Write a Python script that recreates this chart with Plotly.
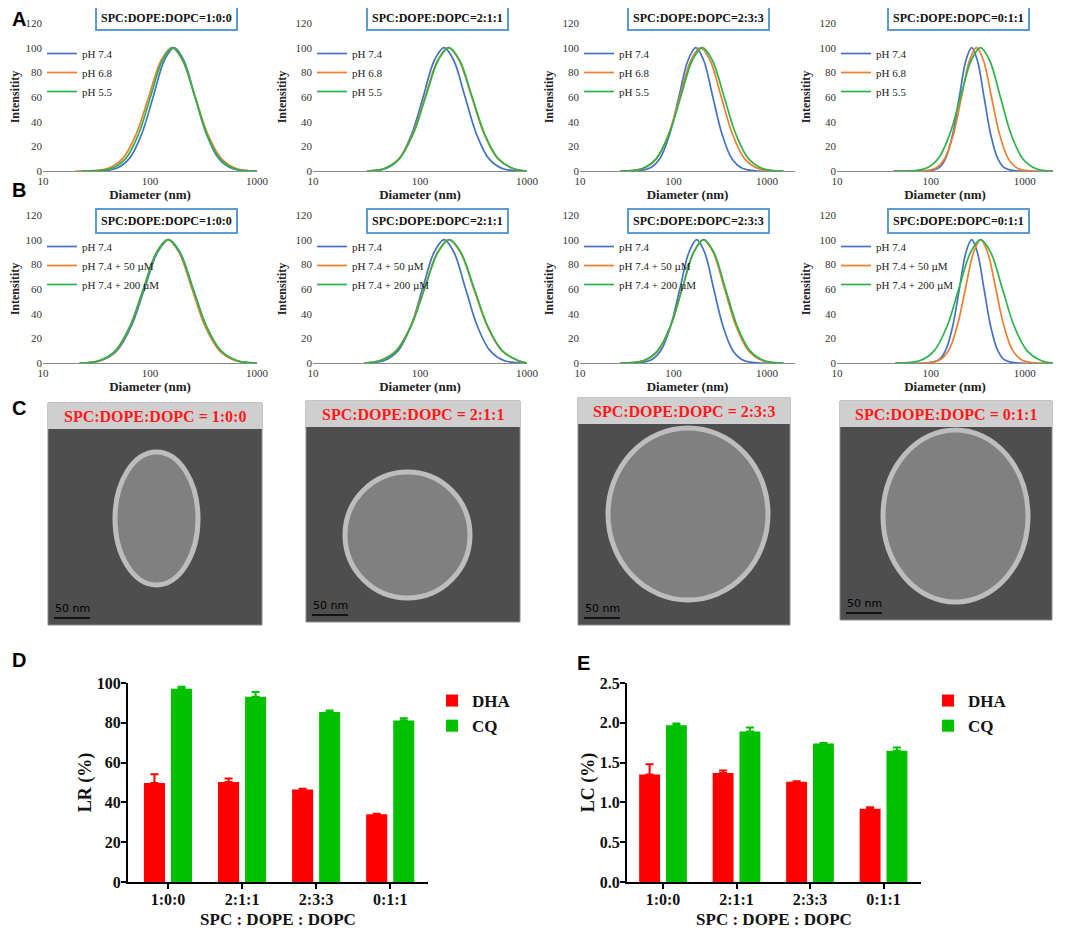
import plotly.graph_objects as go

# the page adds an 8 px body margin, so the figure is drawn 16 px smaller
PAD = 8
W, H = 1065 - 2 * PAD, 937 - 2 * PAD
SERIF = "Liberation Serif"
SANS = "Liberation Sans"

# intensity levels shared by every size-distribution curve
LEVELS = [0, 2, 10, 30, 60, 90, 100, 90, 60, 30, 10, 2, 0]

# row A: diameters (nm) at each intensity level
a1_ph74 = [23, 47.9, 64, 83.6, 107, 136.6, 168, 206, 264, 337, 440, 589, 1000]
a1_ph68 = [20, 40.1, 55.4, 74.3, 97.2, 127.7, 160.3, 201, 264.5, 346, 464, 640, 1000]
a1_ph55 = [23, 43.5, 59.2, 78.3, 101, 131, 163, 202, 263, 339, 449, 610, 1000]

a2_ph74 = [32, 47.9, 64, 83.6, 107, 136.6, 168, 206, 264, 337, 440, 589, 1000]
a2_ph68 = [32, 46.1, 63.6, 85.4, 111.6, 146.7, 184, 231, 304, 397, 533, 735, 1000]
a2_ph55 = [32, 46.6, 64.3, 86.4, 112.9, 148.4, 186.2, 234, 307.5, 402, 539, 744, 1000]

a3_ph74 = [27, 54.5, 71.4, 91.3, 114.3, 143.7, 173.8, 210, 264, 331, 423, 554, 1500]
a3_ph68 = [27, 47.3, 65.8, 88.9, 116.8, 154.5, 195, 246, 325, 428, 578, 804, 1500]
a3_ph55 = [27, 46.4, 65.5, 89.7, 119.6, 160, 204, 260, 349, 465, 636, 898, 1500]

a4_ph74 = [40, 118, 143, 171, 201, 237, 272, 312, 368.5, 433, 518, 629, 2000]
a4_ph68 = [40, 110.7, 140, 174, 212, 259, 306, 362, 442, 538.5, 668.5, 847, 2000]
a4_ph55 = [40, 87.2, 119.5, 159, 207, 270, 337, 421, 550, 714, 952, 1304, 2000]

# row B: pH 7.4 with 0 / 50 / 200 uM
b1_ph74 = [22, 35.1, 49.2, 67, 88.6, 118, 149.6, 190, 253, 334, 455, 637, 1000]
b1_50um = [22, 34.3, 48.1, 65.5, 86.6, 115.3, 146.2, 185.6, 247, 326, 445, 623, 1000]
b1_200um = [22, 33.6, 47.5, 65, 86.6, 116, 147.9, 188.6, 252.7, 336.5, 461, 650, 1000]

b2_ph74 = [30, 46.3, 62.5, 82.2, 105.4, 135.9, 168, 207, 267, 343, 451, 609, 1000]
b2_50um = [30, 42.3, 59.8, 81.8, 109, 146, 186.2, 237.5, 318, 424, 580, 819, 1000]
b2_200um = [30, 42.8, 60.5, 82.7, 110.3, 147.7, 188.4, 240, 322, 429, 587, 828, 1000]

b3_ph74 = [27, 55.8, 73.1, 93.4, 117, 147, 177.8, 215, 270, 338.5, 433, 567, 1500]
b3_50um = [27, 49.1, 68.7, 93.5, 123.8, 164.7, 209, 265, 353, 467, 635, 890, 1500]
b3_200um = [27, 48.1, 67.8, 92.9, 123.8, 165.7, 211, 269.6, 361, 481, 658.5, 930, 1500]

b4_ph74 = [42, 118, 143, 171, 201, 237, 272, 312, 368.5, 433, 518, 629, 2000]
b4_50um = [42, 121, 154, 191, 233, 286, 339, 401, 492, 600, 747, 950, 2000]
b4_200um = [42, 77, 108.7, 149, 198, 266, 339, 432, 579, 771, 1056, 1490, 2000]

ratios = ["1:0:0", "2:1:1", "2:3:3", "0:1:1"]
names_a = ["pH 7.4", "pH 6.8", "pH 5.5"]
names_b = ["pH 7.4", "pH 7.4 + 50 \u00b5M", "pH 7.4 + 200 \u00b5M"]

# loading rate / loading capacity
lr_dha = [49.7, 50.3, 46.5, 34.0]
lr_dha_err = [4.5, 1.7, 0.3, 0.3]
lr_cq = [97.1, 93.1, 85.4, 81.1]
lr_cq_err = [1.0, 2.4, 0.8, 1.2]
lc_dha = [1.35, 1.37, 1.26, 0.92]
lc_dha_err = [0.13, 0.03, 0.005, 0.02]
lc_cq = [1.97, 1.89, 1.74, 1.65]
lc_cq_err = [0.02, 0.05, 0.007, 0.04]

LINE_COLORS = ["#4472C4", "#ED7D31", "#2EB24A"]


# page pixel -> paper fraction
def fx(p):
    return (p - PAD) / W


def fy(p):
    return 1 - (p - PAD) / H


fig = go.Figure()
annotations = []
shapes = []
layout = {}

rows = [
    [[a1_ph74, a1_ph68, a1_ph55], [a2_ph74, a2_ph68, a2_ph55],
     [a3_ph74, a3_ph68, a3_ph55], [a4_ph74, a4_ph68, a4_ph55]],
    [[b1_ph74, b1_50um, b1_200um], [b2_ph74, b2_50um, b2_200um],
     [b3_ph74, b3_50um, b3_200um], [b4_ph74, b4_50um, b4_200um]],
]
col_px = [(43, 257, 3), (313, 527, 3), (580, 795, 3.301), (837, 1053, 3.301)]
row_px = [(23, 171), (215, 363)]
title_cx = [166, 437, 698, 958]
title_cy = [17.5, 221]
legend_top = [39, 232]

k = 0
for r in range(2):
    y0, y1 = row_px[r]
    for c in range(4):
        k += 1
        x0, x1, xmax = col_px[c]
        xa = "x" if k == 1 else "x%d" % k
        ya = "y" if k == 1 else "y%d" % k
        lg = "legend" if k == 1 else "legend%d" % k
        names = names_a if r == 0 else names_b
        for i, d in enumerate(rows[r][c]):
            fig.add_trace(go.Scatter(
                x=d, y=LEVELS, mode="lines", name=names[i],
                line=dict(color=LINE_COLORS[i], width=1.7, shape="spline"),
                xaxis=xa, yaxis=ya, legend=lg, hoverinfo="skip"))
        layout["xaxis" if k == 1 else "xaxis%d" % k] = dict(
            type="log", range=[1, xmax], domain=[fx(x0), fx(x1)], anchor=ya,
            tickvals=[10, 100, 1000], ticktext=["10", "100", "1000"],
            showline=True, linecolor="#8a8a8a", linewidth=1, ticks="",
            showgrid=False, zeroline=False, automargin=False,
            tickfont=dict(family=SERIF, size=11, color="#333333"),
            title=dict(text="<b>Diameter (nm)</b>", standoff=0,
                       font=dict(family=SERIF, size=13, color="#222222")))
        layout["yaxis" if k == 1 else "yaxis%d" % k] = dict(
            range=[0, 120], domain=[fy(y1), fy(y0)], anchor=xa,
            tickvals=[0, 20, 40, 60, 80, 100, 120], showline=False,
            showgrid=False, zeroline=False, ticks="", automargin=False,
            tickfont=dict(family=SERIF, size=11, color="#333333"),
            title=dict(text="<b>Intensitity</b>", standoff=6,
                       font=dict(family=SERIF, size=12, color="#222222")))
        layout[lg] = dict(
            x=fx(x0 - 1), y=fy(legend_top[r]), xanchor="left", yanchor="top",
            bgcolor="rgba(0,0,0,0)", borderwidth=0, tracegroupgap=0,
            font=dict(family=SERIF, size=11, color="#222222"))
        annotations.append(dict(
            text="<b>SPC:DOPE:DOPC=%s</b>" % ratios[c], x=fx(title_cx[c]),
            y=fy(title_cy[r]), xref="paper", yref="paper", xanchor="center",
            yanchor="middle", showarrow=False,
            bordercolor="#5B9BD5", borderwidth=2, borderpad=4, bgcolor="white",
            font=dict(family=SERIF, size=12, color="#111111")))

# row C: stand-ins for the micrographs
img_boxes = [(48, 403, 262, 625), (306, 401, 520, 622), (578, 398, 790, 625), (840, 401, 1052, 620)]
vesicles = [(115, 452, 198, 585), (345, 472, 470, 598), (608, 428, 768, 600), (883, 430, 1028, 602)]
for (x0, y0, x1, y1), (vx0, vy0, vx1, vy1), rt in zip(img_boxes, vesicles, ratios):
    shapes.append(dict(type="rect", xref="paper", yref="paper", x0=fx(x0), x1=fx(x1),
                       y0=fy(y1), y1=fy(y0), fillcolor="#4e4e4e", line=dict(color="#8a8a8a", width=1),
                       layer="below"))
    shapes.append(dict(type="circle", xref="paper", yref="paper", x0=fx(vx0), x1=fx(vx1),
                       y0=fy(vy1), y1=fy(vy0), fillcolor="#808080", line=dict(color="#bdbdbd", width=5),
                       layer="below"))
    shapes.append(dict(type="rect", xref="paper", yref="paper", x0=fx(x0), x1=fx(x1),
                       y0=fy(y0 + 26), y1=fy(y0), fillcolor="#cfcfcf", line=dict(width=0),
                       layer="below"))
    shapes.append(dict(type="line", xref="paper", yref="paper", x0=fx(x0 + 6), x1=fx(x0 + 42),
                       y0=fy(y1 - 7), y1=fy(y1 - 7), line=dict(color="black", width=1.5)))
    annotations.append(dict(text="<b>SPC:DOPE:DOPC = %s</b>" % rt, x=fx((x0 + x1) / 2), y=fy(y0 + 13),
                            xref="paper", yref="paper", xanchor="center", yanchor="middle",
                            showarrow=False, font=dict(family=SERIF, size=16, color="#FF1A1A")))
    annotations.append(dict(text="50 nm", x=fx(x0 + 5), y=fy(y1 - 8), xref="paper", yref="paper",
                            xanchor="left", yanchor="bottom", showarrow=False,
                            font=dict(family="DejaVu Sans", size=11, color="black")))

# rows D and E: bar charts
bar_specs = [
    (9, (128, 428), [-0.54, 3.51], lr_dha, lr_dha_err, lr_cq, lr_cq_err, [0, 100], 20, "LR (%)", 432, ".0f"),
    (10, (627, 921), [-0.49, 3.51], lc_dha, lc_dha_err, lc_cq, lc_cq_err, [0, 2.5], 0.5, "LC (%)", 928, ".1f"),
]
for k, (x0, x1), xr, dha, dha_e, cq, cq_e, yr, dt, ytitle, lgx, fmt in bar_specs:
    xa, ya, lg = "x%d" % k, "y%d" % k, "legend%d" % k
    for name, vals, err, col in [("DHA", dha, dha_e, "#FF0000"), ("CQ", cq, cq_e, "#00C000")]:
        fig.add_trace(go.Bar(
            x=ratios, y=vals, name=name, marker=dict(color=col, line=dict(width=0)),
            error_y=dict(type="data", array=err, arrayminus=[0] * len(err), symmetric=False,
                         color=col, thickness=2, width=4),
            xaxis=xa, yaxis=ya, legend=lg, hoverinfo="skip"))
    layout["xaxis%d" % k] = dict(
        type="category", range=xr, domain=[fx(x0), fx(x1)], anchor=ya,
        showline=True, linecolor="black", linewidth=2, ticks="outside", ticklen=5,
        tickwidth=2, tickcolor="black", showgrid=False, zeroline=False, automargin=False,
        ticklabelstandoff=-3,
        tickfont=dict(family=SERIF, size=16, color="#111111", weight="bold"),
        title=dict(text="<b>SPC : DOPE : DOPC</b>", standoff=18,
                   font=dict(family=SERIF, size=17, color="#111111")))
    layout["yaxis%d" % k] = dict(
        range=yr, dtick=dt, tickformat=fmt, domain=[fy(882), fy(683)], anchor=xa,
        showline=True, linecolor="black", linewidth=2, ticks="outside", ticklen=5,
        tickwidth=2, tickcolor="black", showgrid=False, zeroline=False, automargin=False,
        ticklabelstandoff=-3,
        tickfont=dict(family=SERIF, size=16, color="#111111", weight="bold"),
        title=dict(text="<b>%s</b>" % ytitle, standoff=0,
                   font=dict(family=SERIF, size=18, color="#111111")))
    layout[lg] = dict(
        x=fx(lgx), y=fy(683), xanchor="left", yanchor="top", bgcolor="rgba(0,0,0,0)",
        font=dict(family=SERIF, size=17, color="#111111", weight="bold"), tracegroupgap=0)

for letter, px, py in [("A", 10, 19), ("B", 10, 190), ("C", 10, 408), ("D", 10, 660), ("E", 575, 663)]:
    annotations.append(dict(text="<b>%s</b>" % letter, x=fx(px), y=fy(py), xref="paper", yref="paper",
                            xanchor="left", yanchor="middle", showarrow=False,
                            font=dict(family=SANS, size=20, color="black")))

fig.update_layout(**layout)
fig.update_layout(
    template="none",
    width=W, height=H, margin=dict(l=0, r=0, t=0, b=0, autoexpand=False),
    paper_bgcolor="white", plot_bgcolor="white",
    barmode="group", bargap=0.27, bargroupgap=0.22,
    annotations=annotations, shapes=shapes,
)

fig.write_html("out.html")
